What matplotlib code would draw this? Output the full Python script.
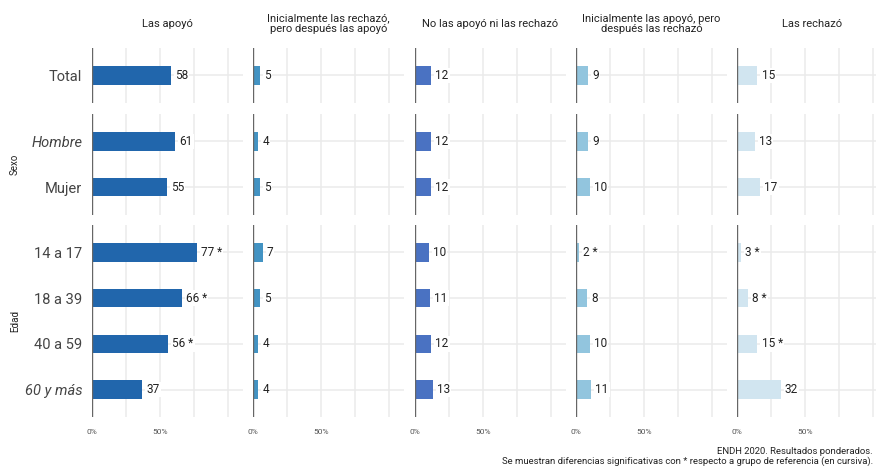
import matplotlib
matplotlib.use("Agg")
import matplotlib.pyplot as plt

plt.rcParams['font.family'] = ['Roboto', 'DejaVu Sans']

# data
groups = ['Total', 'Sexo', 'Edad']
group_cats = [['Total'], ['Hombre', 'Mujer'], ['14 a 17', '18 a 39', '40 a 59', '60 y más']]
italic_cats = ['Hombre', '60 y más']

responses = ['Las apoyó',
             'Inicialmente las rechazó,\npero después las apoyó',
             'No las apoyó ni las rechazó',
             'Inicialmente las apoyó, pero\ndespués las rechazó',
             'Las rechazó']
colors = ['#2166ac', '#4393c3', '#4a72c2', '#92c5de', '#d1e5f0']

# values in order Total, Hombre, Mujer, 14 a 17, 18 a 39, 40 a 59, 60 y más
apoyo = [58, 61, 55, 77, 66, 56, 37]
rechazo_apoyo = [5, 4, 5, 7, 5, 4, 4]
ni_ni = [12, 12, 12, 10, 11, 12, 13]
apoyo_rechazo = [9, 9, 10, 2, 8, 10, 11]
rechazo = [15, 13, 17, 3, 8, 15, 32]
values = [apoyo, rechazo_apoyo, ni_ni, apoyo_rechazo, rechazo]

sig_apoyo = [0, 0, 0, 1, 1, 1, 0]
sig_rechazo_apoyo = [0, 0, 0, 0, 0, 0, 0]
sig_ni_ni = [0, 0, 0, 0, 0, 0, 0]
sig_apoyo_rechazo = [0, 0, 0, 1, 0, 0, 0]
sig_rechazo = [0, 0, 0, 1, 1, 1, 0]
sigs = [sig_apoyo, sig_rechazo_apoyo, sig_ni_ni, sig_apoyo_rechazo, sig_rechazo]

W, H = 876, 466
fig = plt.figure(figsize=(W / 100, H / 100), dpi=100)

# panel layout in pixels
col_left = [92, 253, 415, 576, 737]
col_w = 151
row_top = [48, 114, 225]
unit = 45.7

def px_axes(left, top, width, height):
    return fig.add_axes([left / W, 1 - (top + height) / H, width / W, height / H])

start = 0
for r, cats in enumerate(group_cats):
    n = len(cats)
    h = (n - 1 + 1.2) * unit
    idx = list(range(start, start + n))
    for c in range(5):
        ax = px_axes(col_left[c], row_top[r], col_w, h)
        vals = [values[c][i] for i in idx]
        ypos = list(range(n))
        ax.set_xlim(0, 111)
        ax.set_ylim(n - 1 + 0.6, -0.6)
        for x in [25, 50, 75, 100]:
            ax.axvline(x, color='#ebebeb', lw=1.1, zorder=0)
        for y in ypos:
            ax.axhline(y, color='#ebebeb', lw=1.1, zorder=0)
        ax.axvline(0, color='#666666', lw=1.0, zorder=3)
        ax.barh(ypos, vals, height=0.4, color=colors[c], zorder=2)
        for y, v, i in zip(ypos, vals, idx):
            lab = f'{v} *' if sigs[c][i] else f'{v}'
            ax.annotate(lab, xy=(v, y), xytext=(3, 0), textcoords='offset points',
                        ha='left', va='center', fontsize=8.5, color='#222222',
                        bbox=dict(boxstyle='square,pad=0.1', fc='white', ec='none'),
                        zorder=4)
        for s in ax.spines.values():
            s.set_visible(False)
        ax.set_xticks([0, 50])
        ax.tick_params(length=0)
        if r == len(group_cats) - 1:
            ax.set_xticklabels(['0%', '50%'], fontsize=6, color='#555555')
            ax.tick_params(axis='x', pad=9)
        else:
            ax.set_xticklabels([])
        if c == 0:
            ax.set_yticks(ypos)
            ax.set_yticklabels(cats, fontsize=10.5, color='#444444')
            for t in ax.get_yticklabels():
                if t.get_text() in italic_cats:
                    t.set_style('italic')
            ax.tick_params(axis='y', pad=7)
        else:
            ax.set_yticks([])
        ax.patch.set_alpha(0)
        if r == 0:
            fig.text((col_left[c] + col_w / 2) / W, 1 - 24 / H, responses[c],
                     ha='center', va='center', fontsize=8, color='#222222',
                     linespacing=1.1)
    if r > 0:
        fig.text(15 / W, 1 - (row_top[r] + h / 2) / H, groups[r], rotation=90,
                 ha='center', va='center', fontsize=7, color='#222222')
    start += n

fig.text(873 / W, 1 - 452 / H, 'ENDH 2020. Resultados ponderados.',
         ha='right', va='center', fontsize=6.8, color='#222222')
fig.text(873 / W, 1 - 461 / H,
         'Se muestran diferencias significativas con * respecto a grupo de referencia (en cursiva).',
         ha='right', va='center', fontsize=6.8, color='#222222')

fig.savefig('out.png', dpi=100)
